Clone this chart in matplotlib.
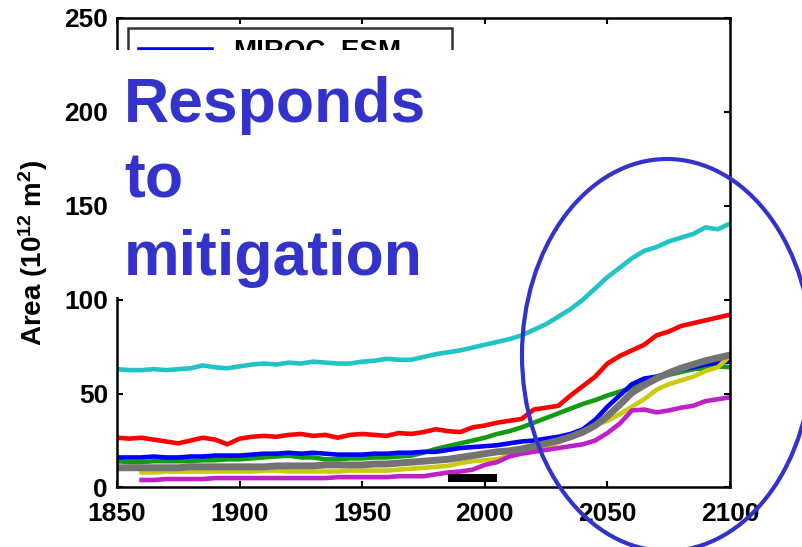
import numpy as np
import matplotlib.pyplot as plt
from matplotlib.patches import Rectangle, Ellipse

#----------------------------FONTS-----------------------------------
plt.rcParams['font.family'] = 'Liberation Sans'
plt.rcParams['font.weight'] = 'bold'
plt.rcParams['mathtext.fontset'] = 'custom'
plt.rcParams['mathtext.rm'] = 'Liberation Sans:bold'
plt.rcParams['mathtext.it'] = 'Liberation Sans:bold'
plt.rcParams['mathtext.bf'] = 'Liberation Sans:bold'

#----------------------------DATA------------------------------------
# model area series, one value every 5 years (1850..2100), units 10^12 m^2
years = np.arange(1850, 2101, 5)

cyan_area = [63, 62.5, 62.5, 63, 62.5, 63, 63.5, 65, 64, 63.5,
             64.5, 65.5, 66, 65.5, 66.5, 66, 67, 66.5, 66, 66,
             67, 67.5, 68.5, 68, 68, 69.5, 71, 72, 73, 74.5,
             76, 77.5, 79, 81, 84, 87, 91, 95, 100, 106,
             112, 117, 122, 126, 128, 131, 133, 135, 138.5, 137.5, 140.5]

red_area = [26.5, 26, 26.5, 25.5, 24.5, 23.5, 25, 26.5, 25.5, 23,
            26, 27, 27.5, 27, 28, 28.5, 27.5, 28, 26.5, 28,
            28.5, 28, 27.5, 29, 28.5, 29.5, 31, 30, 29.5, 32,
            33, 34.5, 35.5, 36.5, 41.5, 42.5, 43.5, 49, 54, 59,
            66, 70, 73, 76, 81, 83, 86, 87.5, 89, 90.5, 92]

green_area = [14, 13.5, 13.5, 14, 14, 14, 14, 14.5, 14.5, 15,
              15, 15.5, 16, 16.5, 17, 16, 16, 15, 15, 15.5,
              15.5, 16, 16, 16.5, 17, 18.5, 20.5, 22, 23.5, 25,
              26.5, 28.5, 30, 32, 34.5, 37, 39.5, 42, 44.5, 46.5,
              49, 51, 53, 55.5, 58, 60, 61.5, 63, 63.5, 64.5, 64]

blue_area = [16, 16, 16, 16.5, 16, 16, 16.5, 16.5, 17, 17,
             17, 17.5, 18, 18, 18.5, 18, 18.5, 18, 17.5, 17.5,
             17.5, 18, 18, 18.5, 18.5, 19, 19, 20, 21, 21.5,
             22, 22.5, 23.5, 24.5, 25, 26, 27, 28.5, 31, 36,
             43, 49, 55, 58, 59, 61, 63, 64, 65.5, 66.5, 67]

yellow_area = [np.nan, np.nan, 8, 8, 8.5, 8.5, 8.5, 8.5, 8.5, 8.5,
               8.5, 8.5, 9, 9, 8.5, 8.5, 8.5, 8.5, 8.5, 9,
               9, 9, 9, 9.5, 10, 10.5, 11, 11.5, 13, 14,
               14.5, 15, 17, 18.5, 19.5, 21, 24, 27, 30, 33,
               35.5, 39, 43, 47, 52, 55, 57, 59, 62, 64, 70]

magenta_area = [np.nan, np.nan, 4, 4, 4.5, 4.5, 4.5, 4.5, 5, 5,
                5, 5, 5, 5, 5, 5, 5, 5, 5.5, 5.5,
                5.5, 5.5, 5.5, 6, 6, 6, 7, 8, 8.5, 9.5,
                12, 13.5, 16.5, 18, 19, 20, 21, 22, 23, 25,
                29, 34, 41, 41.5, 40, 41, 42.5, 43.5, 46, 47, 48]

gray_area = [10.5, 10.5, 10.5, 10.5, 10.5, 10.5, 11, 11, 11, 11,
             11, 11, 11, 11.5, 11.5, 11.5, 11.5, 12, 12, 12,
             12, 12.5, 12.5, 13, 13.5, 14, 14.5, 15, 16, 17,
             18, 19, 19.5, 20.5, 22, 23.5, 25, 27, 29.5, 33,
             38, 44, 50.5, 54.5, 58, 61, 63.5, 65.5, 67.5, 69, 70.5]

# reference period bar
ref_years = [1985, 2005]
ref_level = 5

x_ticks = [1850, 1900, 1950, 2000, 2050, 2100]
y_ticks = [0, 50, 100, 150, 200, 250]

#----------------------------PLOT------------------------------------
fig = plt.figure(figsize=(8.03, 5.47), dpi=100)
ax = fig.add_axes([0.1457, 0.1088, 0.7634, 0.8583])

ax.plot(years, cyan_area, color='#20C4C4', lw=3.3)
ax.plot(years, red_area, color='#FF0000', lw=3.3)
ax.plot(years, green_area, color='#139A13', lw=3.3)
ax.plot(years, blue_area, color='#0000FF', lw=3.3, label='MIROC_ESM')
ax.plot(years, yellow_area, color='#CACA10', lw=3.3)
ax.plot(years, magenta_area, color='#C020C8', lw=3.3)
ax.plot(years, gray_area, color='#737373', lw=5)
ax.plot(ref_years, [ref_level, ref_level], color='black', lw=5.8,
        solid_capstyle='butt')

ax.set_xlim(1850, 2100)
ax.set_ylim(0, 250)
ax.set_xticks(x_ticks)
ax.set_yticks(y_ticks)
ax.tick_params(direction='in', length=4.5, width=1.5, top=True, right=True,
               labelsize=19)
ax.tick_params(axis='x', pad=10.5)
ax.tick_params(axis='y', pad=6.5)
for sp in ax.spines.values():
    sp.set_linewidth(1.8)

ax.set_ylabel('Area (10$^{12}$ m$^{2}$)', fontsize=20, fontweight='bold')
ax.yaxis.set_label_coords(-0.11, 0.5)

leg = ax.legend(loc='upper left', bbox_to_anchor=(0.018, 0, 0.529, 0.9787),
                mode='expand', borderaxespad=0, fancybox=False,
                fontsize=20, handlelength=2.6, frameon=True)
leg.get_frame().set_edgecolor('black')
leg.get_frame().set_linewidth(1.8)

# white panel with the annotation on top of the axes
fig.add_artist(Rectangle((0.1333, 0.457), 0.452, 0.4516, transform=fig.transFigure,
                         facecolor='white', edgecolor='none', zorder=5))
note_lines = ['Responds', 'to', 'mitigation']
note_y = [1 - 122 / 547, 1 - 197 / 547, 1 - 275 / 547]
for txt, yy in zip(note_lines, note_y):
    fig.text(0.1545, yy, txt, color='#3333CC', fontsize=45, fontweight='bold',
             va='baseline', ha='left', zorder=6)

fig.add_artist(Ellipse((667 / 803, 1 - 355 / 547), 290 / 803, 392 / 547,
                       transform=fig.transFigure, facecolor='none',
                       edgecolor='#3333CC', lw=3, zorder=7))

fig.savefig('out.png', dpi=100)
